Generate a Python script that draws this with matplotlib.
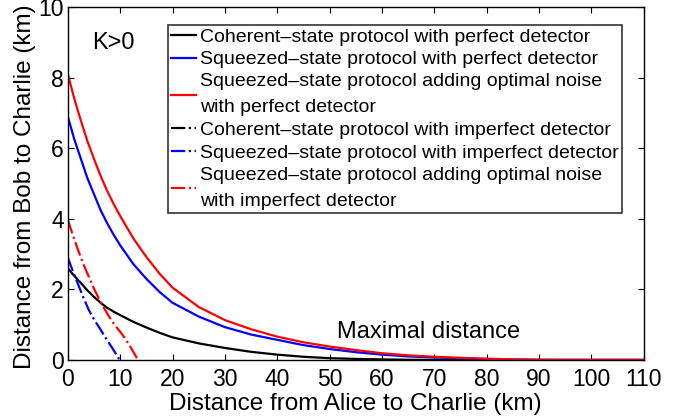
import matplotlib
matplotlib.use("Agg")
import matplotlib.pyplot as plt

plt.rcParams['font.family'] = ['Liberation Sans', 'DejaVu Sans']

# Data
dist_ac = [0, 1.25, 2.5, 3.75, 5, 6.25, 7.5, 8.75, 10, 12.5, 15, 17.5, 20, 25, 30,
           35, 40, 45, 50, 55, 60, 65, 70, 75, 80, 85, 90, 95, 100, 105, 110]
coh_perfect = [2.6, 2.38, 2.18, 1.97, 1.79, 1.62, 1.48, 1.37, 1.27, 1.08, 0.92,
               0.77, 0.64, 0.47, 0.34, 0.23, 0.15, 0.09, 0.05, 0.03, 0.015, 0.005,
               0, 0, 0, 0, 0, 0, 0, 0, 0]
sq_perfect = [6.9, 6.25, 5.7, 5.15, 4.7, 4.25, 3.88, 3.55, 3.25, 2.72, 2.3, 1.93,
              1.62, 1.23, 0.93, 0.72, 0.57, 0.42, 0.31, 0.22, 0.15, 0.1, 0.07,
              0.045, 0.025, 0.01, 0, 0, 0, 0, 0]
sq_noise_perfect = [8.1, 7.4, 6.78, 6.2, 5.7, 5.22, 4.8, 4.42, 4.08, 3.45, 2.92,
                    2.45, 2.05, 1.5, 1.13, 0.87, 0.66, 0.5, 0.38, 0.28, 0.19, 0.13,
                    0.09, 0.06, 0.035, 0.015, 0.005, 0, 0, 0, 0]

dist_coh_imp = []
coh_imperfect = []
dist_sq_imp = [0, 1, 2, 3, 4, 5, 6, 7, 8, 9, 9.9]
sq_imperfect = [2.9, 2.5, 2.13, 1.76, 1.42, 1.15, 0.92, 0.68, 0.45, 0.22, 0]
dist_sqn_imp = [0, 1, 2, 3, 4, 5, 6, 7, 8, 9, 10, 11, 12, 13.4]
sq_noise_imperfect = [3.97, 3.52, 3.1, 2.71, 2.36, 2.02, 1.72, 1.45, 1.2, 0.98,
                      0.8, 0.6, 0.36, 0]

labels = ['Coherent\u2013state protocol with perfect detector',
          'Squeezed\u2013state protocol with perfect detector',
          'Squeezed\u2013state protocol adding optimal noise\nwith perfect detector',
          'Coherent\u2013state protocol with imperfect detector',
          'Squeezed\u2013state protocol with imperfect detector',
          'Squeezed\u2013state protocol adding optimal noise\nwith imperfect detector']

fig = plt.figure(figsize=(6.99, 4.2), dpi=100)
ax = fig.add_axes([0.097, 0.143, 0.824, 0.840])

lw = 1.6
ax.plot(dist_ac, coh_perfect, color='black', lw=lw, label=labels[0])
ax.plot(dist_ac, sq_perfect, color='blue', lw=lw, label=labels[1])
ax.plot(dist_ac, sq_noise_perfect, color='red', lw=lw, label=labels[2])
ax.plot(dist_coh_imp, coh_imperfect, color='black', lw=lw, ls='-.', label=labels[3])
ax.plot(dist_sq_imp, sq_imperfect, color='blue', lw=lw, ls='-.', label=labels[4])
ax.plot(dist_sqn_imp, sq_noise_imperfect, color='red', lw=lw, ls='-.', label=labels[5])

ax.set_xlim(0, 110)
ax.set_ylim(0, 10)
ax.set_xticks(range(0, 111, 10))
ax.set_yticks(range(0, 11, 2))
ax.tick_params(direction='in', top=True, right=True, length=4, labelsize=16.5)
ax.tick_params(axis='x', pad=6)
ax.tick_params(axis='y', pad=3)
for s in ax.spines.values():
    s.set_linewidth(1.0)

ax.set_xlabel('Distance from Alice to Charlie (km)', fontsize=17.5, labelpad=1)
ax.set_ylabel('Distance from Bob to Charlie (km)', fontsize=17.5, labelpad=0)
ax.yaxis.set_label_coords(-0.056, 0.49)

ax.text(4.6, 8.98, 'K>0', fontsize=17, va='center', ha='left')
ax.text(51.5, 0.8, 'Maximal distance', fontsize=17, va='center', ha='left')

leg = ax.legend(loc='upper left', bbox_to_anchor=(0.174, 0.422, 0.788, 0.527),
                mode='expand', fontsize=14, frameon=True, fancybox=False,
                borderpad=0.15, handlelength=1.3, handletextpad=0.2,
                labelspacing=0.26, borderaxespad=0)
for t in leg.get_texts():
    t.set_linespacing(1.7)
leg.get_frame().set_edgecolor('black')
leg.get_frame().set_linewidth(1.2)

fig.savefig('out.png', dpi=100)
